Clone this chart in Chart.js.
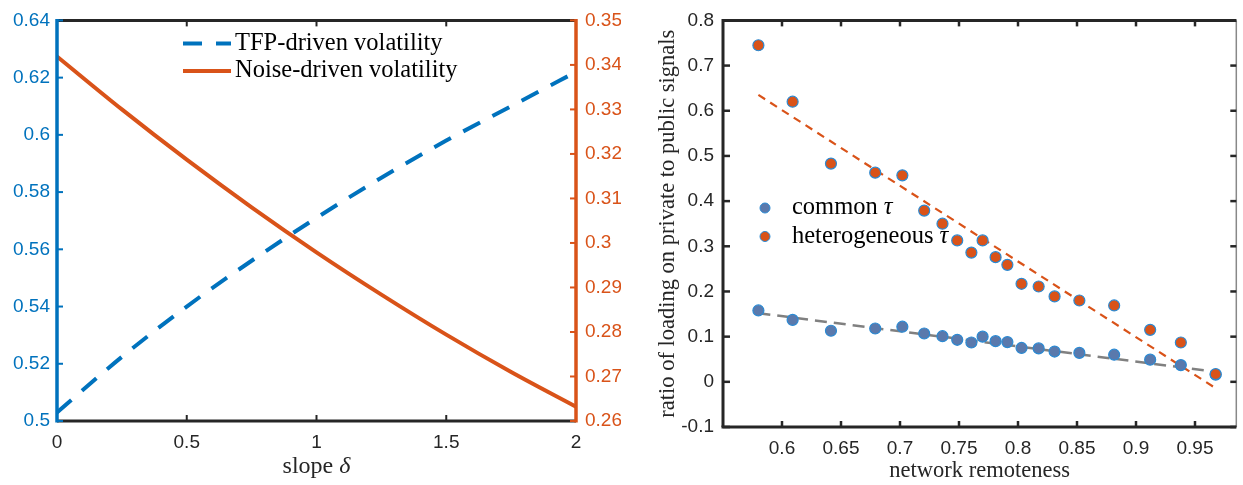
<!DOCTYPE html>
<html>
<head>
<meta charset="utf-8">
<script src="https://cdn.jsdelivr.net/npm/chart.js@4.4.1/dist/chart.umd.min.js"></script>
<style>
  html, body { margin: 0; padding: 0; background: #fff; }
  #wrap { position: relative; width: 1243px; height: 485px; }
  #chartLeft { position: absolute; left: 0; top: 0; }
  #chartRight { position: absolute; left: 621px; top: 0; }
</style>
</head>
<body>
<div id="wrap">
  <canvas id="chartLeft" width="621" height="485"></canvas>
  <canvas id="chartRight" width="622" height="485"></canvas>
</div>
<script>
// left panel: volatility against the slope
var slope = [0, 0.25, 0.5, 0.75, 1, 1.25, 1.5, 1.75, 2];
var tfpVol = [0.503, 0.5224, 0.540, 0.556, 0.571, 0.585, 0.598, 0.610, 0.622];
var noiseVol = [0.3419, 0.3300, 0.3187, 0.3080, 0.2979, 0.2884, 0.2794, 0.2710, 0.2632];
var slopeTicks = [0, 0.5, 1, 1.5, 2];
var tfpTicks = [0.5, 0.52, 0.54, 0.56, 0.58, 0.6, 0.62, 0.64];
var noiseTicks = [0.26, 0.27, 0.28, 0.29, 0.3, 0.31, 0.32, 0.33, 0.34, 0.35];

// right panel: loading ratio against network remoteness
var remoteness = [0.580, 0.609, 0.6415, 0.679, 0.702, 0.7205, 0.736, 0.7485, 0.7605, 0.770,
                  0.781, 0.791, 0.803, 0.8175, 0.831, 0.852, 0.8815, 0.912, 0.938, 0.9675];
var commonTau = [0.158, 0.137, 0.113, 0.118, 0.122, 0.107, 0.101, 0.093, 0.087, 0.100,
                 0.090, 0.088, 0.075, 0.074, 0.067, 0.064, 0.060, 0.049, 0.037, 0.016];
var heteroTau = [0.745, 0.620, 0.483, 0.463, 0.457, 0.379, 0.350, 0.313, 0.286, 0.313,
                 0.276, 0.259, 0.217, 0.211, 0.189, 0.180, 0.169, 0.115, 0.087, 0.017];
var fitX = [0.58, 0.968];
var fitCommon = [0.152, 0.022];
var fitHetero = [0.635, -0.015];
var remoteTicks = [0.6, 0.65, 0.7, 0.75, 0.8, 0.85, 0.9, 0.95];
var ratioTicks = [-0.1, 0, 0.1, 0.2, 0.3, 0.4, 0.5, 0.6, 0.7, 0.8];

var BLUE = "#0072BD";
var ORANGE = "#D95319";
var DARK = "#262626";
var SANS = "'Liberation Sans', Arial, sans-serif";
var SERIF = "'Liberation Serif', 'Times New Roman', serif";

function pts(xs, ys) {
    return xs.map(function (x, i) { return { x: x, y: ys[i] }; });
}

function fixTicks(list) {
    return function (scale) {
        scale.ticks = list.map(function (v) { return { value: v }; });
    };
}

function fixSize(prop, px) {
    return function (scale) { scale[prop] = px; };
}

function plainNum(v) {
    return String(Math.round(v * 1000) / 1000);
}

// text made of plain and italic pieces
function richText(ctx, parts, x, y, size, align) {
    var w = 0;
    parts.forEach(function (p) {
        ctx.font = (p[1] ? "italic " : "") + size + "px " + SERIF;
        w += ctx.measureText(p[0]).width;
    });
    var cx = align === "center" ? x - w / 2 : x;
    ctx.textAlign = "left";
    ctx.textBaseline = "middle";
    parts.forEach(function (p) {
        ctx.font = (p[1] ? "italic " : "") + size + "px " + SERIF;
        ctx.fillText(p[0], cx, y);
        cx += ctx.measureText(p[0]).width;
    });
}

function line(ctx, x1, y1, x2, y2, color, width) {
    ctx.beginPath();
    ctx.strokeStyle = color;
    ctx.lineWidth = width;
    ctx.moveTo(x1, y1);
    ctx.lineTo(x2, y2);
    ctx.stroke();
}

var leftDecor = {
    id: "leftDecor",
    afterDraw: function (chart) {
        var ctx = chart.ctx, a = chart.chartArea, s = chart.scales;
        ctx.save();
        ctx.setLineDash([]);
        line(ctx, a.left, a.top, a.right, a.top, DARK, 3);
        line(ctx, a.left, a.bottom, a.right, a.bottom, DARK, 3);
        slopeTicks.forEach(function (v) {
            var px = s.x.getPixelForValue(v);
            line(ctx, px, a.bottom, px, a.bottom - 6, DARK, 2);
            line(ctx, px, a.top, px, a.top + 6, DARK, 2);
        });
        line(ctx, a.left, a.top - 1.5, a.left, a.bottom + 1.5, BLUE, 3.5);
        tfpTicks.forEach(function (v) {
            var py = s.y.getPixelForValue(v);
            line(ctx, a.left, py, a.left + 6, py, BLUE, 2);
        });
        line(ctx, a.right, a.top - 1.5, a.right, a.bottom + 1.5, ORANGE, 3.5);
        noiseTicks.forEach(function (v) {
            var py = s.y1.getPixelForValue(v);
            line(ctx, a.right, py, a.right - 6, py, ORANGE, 2);
        });

        // legend
        var ds = chart.data.datasets;
        var rows = [43.5, 71];
        ds.forEach(function (d, i) {
            ctx.setLineDash(d.borderDash || []);
            line(ctx, 183, rows[i], 231, rows[i], d.borderColor, 4);
            ctx.setLineDash([]);
            ctx.fillStyle = "#000";
            richText(ctx, [[d.label, false]], 235, rows[i], 24.5, "left");
        });

        // axis title
        ctx.fillStyle = DARK;
        richText(ctx, [["slope ", false], ["\u03B4", true]], (a.left + a.right) / 2, 467, 24, "center");
        ctx.restore();
    }
};

var rightDecor = {
    id: "rightDecor",
    afterDraw: function (chart) {
        var ctx = chart.ctx, a = chart.chartArea, s = chart.scales;
        ctx.save();
        ctx.setLineDash([]);
        line(ctx, a.right, a.top, a.right, a.bottom, "#888", 1.5);
        line(ctx, a.left, a.top, a.right, a.top, DARK, 3);
        line(ctx, a.left - 1.5, a.bottom, a.right, a.bottom, DARK, 3);
        line(ctx, a.left, a.top - 1.5, a.left, a.bottom, DARK, 3);
        remoteTicks.forEach(function (v) {
            var px = s.x.getPixelForValue(v);
            line(ctx, px, a.bottom, px, a.bottom - 6, DARK, 2.5);
            line(ctx, px, a.top, px, a.top + 6, DARK, 2.5);
        });
        ratioTicks.forEach(function (v) {
            var py = s.y.getPixelForValue(v);
            line(ctx, a.left, py, a.left + 7, py, DARK, 2.5);
            line(ctx, a.right, py, a.right - 6, py, DARK, 2.5);
        });

        // legend
        var ds = chart.data.datasets;
        var items = [[ds[1], [["common ", false], ["\u03C4", true]]],
                     [ds[0], [["heterogeneous ", false], ["\u03C4", true]]]];
        var rows = [208, 236.5];
        items.forEach(function (it, i) {
            ctx.beginPath();
            ctx.arc(144, rows[i], 5, 0, Math.PI * 2);
            ctx.fillStyle = it[0].backgroundColor;
            ctx.fill();
            ctx.lineWidth = 1;
            ctx.strokeStyle = it[0].borderColor;
            ctx.stroke();
            ctx.fillStyle = "#000";
            richText(ctx, it[1], 171, rows[i], 24.5, "left");
        });

        // axis titles
        ctx.fillStyle = DARK;
        richText(ctx, [["network remoteness", false]], (a.left + a.right) / 2, 471, 22.5, "center");
        ctx.translate(47, (a.top + a.bottom) / 2);
        ctx.rotate(-Math.PI / 2);
        richText(ctx, [["ratio of loading on private to public signals", false]], 0, 0, 22.5, "center");
        ctx.restore();
    }
};

var tickFont = { family: SANS, size: 19 };

new Chart(document.getElementById("chartLeft"), {
    type: "line",
    data: {
        datasets: [
            {
                label: "TFP-driven volatility",
                data: pts(slope, tfpVol),
                borderColor: BLUE,
                borderWidth: 4,
                borderDash: [19, 14],
                pointRadius: 0,
                cubicInterpolationMode: "monotone",
                yAxisID: "y",
            },
            {
                label: "Noise-driven volatility",
                data: pts(slope, noiseVol),
                borderColor: ORANGE,
                borderWidth: 4,
                pointRadius: 0,
                cubicInterpolationMode: "monotone",
                yAxisID: "y1",
            },
        ],
    },
    options: {
        responsive: false,
        animation: false,
        layout: { padding: { top: 16, left: 0, right: 0, bottom: 0 } },
        plugins: { legend: { display: false }, tooltip: { enabled: false } },
        scales: {
            x: {
                type: "linear", min: 0, max: 2,
                grid: { display: false, drawTicks: false },
                border: { display: false },
                ticks: { font: tickFont, color: DARK, padding: 10, maxRotation: 0, callback: plainNum },
                afterBuildTicks: fixTicks(slopeTicks),
                afterFit: fixSize("height", 64),
            },
            y: {
                type: "linear", position: "left", min: 0.5, max: 0.64,
                grid: { display: false, drawTicks: false },
                border: { display: false },
                ticks: { font: tickFont, color: BLUE, padding: 7, callback: plainNum },
                afterBuildTicks: fixTicks(tfpTicks),
                afterFit: fixSize("width", 57),
            },
            y1: {
                type: "linear", position: "right", min: 0.26, max: 0.35,
                grid: { display: false, drawTicks: false },
                border: { display: false },
                ticks: { font: tickFont, color: ORANGE, padding: 9, callback: plainNum },
                afterBuildTicks: fixTicks(noiseTicks),
                afterFit: fixSize("width", 45),
            },
        },
    },
    plugins: [leftDecor],
});

new Chart(document.getElementById("chartRight"), {
    type: "scatter",
    data: {
        datasets: [
            {
                label: "heterogeneous",
                data: pts(remoteness, heteroTau),
                backgroundColor: ORANGE,
                borderColor: "#2B8AD3",
                borderWidth: 1.2,
                pointRadius: 5.5,
            },
            {
                label: "common",
                data: pts(remoteness, commonTau),
                backgroundColor: "#5A79AC",
                borderColor: "#2B8AD3",
                borderWidth: 1.2,
                pointRadius: 5.5,
            },
            {
                label: "fit heterogeneous",
                data: pts(fitX, fitHetero),
                showLine: true,
                borderColor: ORANGE,
                borderWidth: 2.2,
                borderDash: [8, 6],
                pointRadius: 0,
            },
            {
                label: "fit common",
                data: pts(fitX, fitCommon),
                showLine: true,
                borderColor: "#808080",
                borderWidth: 2.5,
                borderDash: [12, 7],
                pointRadius: 0,
            },
        ],
    },
    options: {
        responsive: false,
        animation: false,
        layout: { padding: { top: 19, left: 0, right: 1, bottom: 0 } },
        plugins: { legend: { display: false }, tooltip: { enabled: false } },
        scales: {
            x: {
                type: "linear", min: 0.55, max: 0.985,
                grid: { display: false, drawTicks: false },
                border: { display: false },
                ticks: { font: tickFont, color: DARK, padding: 10, maxRotation: 0, callback: plainNum },
                afterBuildTicks: fixTicks(remoteTicks),
                afterFit: fixSize("height", 58),
            },
            y: {
                type: "linear", min: -0.1, max: 0.8,
                grid: { display: false, drawTicks: false },
                border: { display: false },
                ticks: { font: tickFont, color: DARK, padding: 9, callback: plainNum },
                afterBuildTicks: fixTicks(ratioTicks),
                afterFit: fixSize("width", 102),
            },
        },
    },
    plugins: [rightDecor],
});
</script>
</body>
</html>
